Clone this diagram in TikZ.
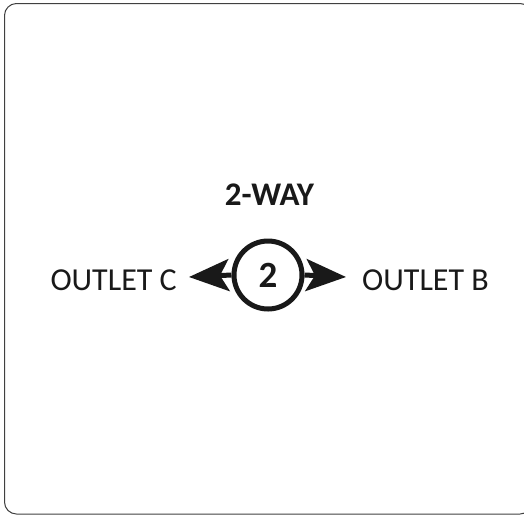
\documentclass[tikz,border=0pt]{standalone}
\usepackage{fontspec}
\setmainfont{Carlito}
\usepackage{tikz}
\usetikzlibrary{arrows.meta,positioning}

\begin{document}
\begin{tikzpicture}[
  x=1pt, y=-1pt,
  every node/.style={font=\fontsize{32}{38}\selectfont, text=black!90, inner sep=0pt},
  frame/.style={draw=black!75, line width=1pt, rounded corners=12pt},
  valve/.style={draw=black!90, circle, line width=5pt, minimum size=68pt, font=\fontsize{37}{43}\selectfont\bfseries},
  title/.style={font=\fontsize{33}{39}\selectfont\bfseries},
  arrow/.style={-{Stealth[length=40pt, width=32pt, inset=9pt]}, line width=5pt, draw=black!90}
]
\useasboundingbox (0,0) rectangle (524,515);
\draw[frame] (4.5,3.5) rectangle (532,514);

\node[title] (way) at (269.5,194.5) {2-WAY};
\node[valve] (two) at (268,275) {2};
\coordinate (tipc) at (189,277);
\coordinate (tipb) at (346,277);
\node[anchor=east] (outc) at (177,280) {OUTLET C};
\node[anchor=west] (outb) at (362,280) {OUTLET B};

\draw[arrow] (two.west) -- (tipc);
\draw[arrow] (two.east) -- (tipb);
\end{tikzpicture}
\end{document}
